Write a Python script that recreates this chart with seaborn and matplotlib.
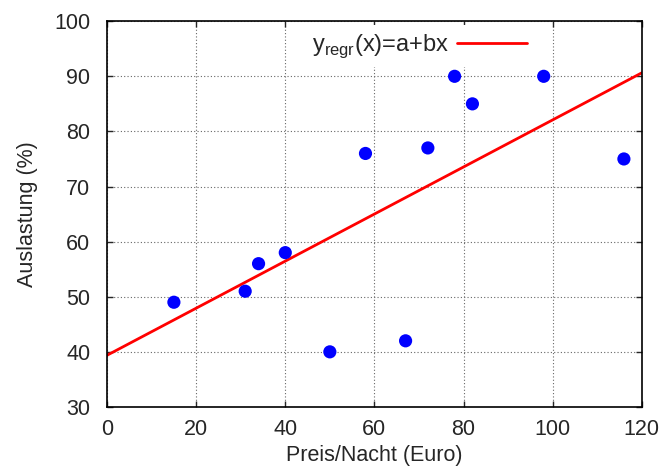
import numpy as np
import pandas as pd
import matplotlib
matplotlib.use('Agg')
import matplotlib.pyplot as plt
import seaborn as sns

preis = [15, 31, 34, 40, 50, 58, 67, 72, 78, 82, 98, 116]
auslastung = [49, 51, 56, 58, 40, 76, 42, 77, 90, 85, 90, 75]

df = pd.DataFrame({'preis': preis, 'auslastung': auslastung})

sns.set_style('ticks')
plt.rcParams['font.family'] = ['Liberation Sans', 'DejaVu Sans']
plt.rcParams['mathtext.fontset'] = 'custom'
plt.rcParams['mathtext.rm'] = 'Liberation Sans'

fig = plt.figure(figsize=(6.65, 4.71), dpi=100)
ax = fig.add_axes([0.161, 0.136, 0.804, 0.819])
ax.set_xlim(0, 120)
ax.set_ylim(30, 100)

# regression line over the full axis range
sns.regplot(data=df, x='preis', y='auslastung', ax=ax, ci=None, truncate=False,
            scatter=False, line_kws={'color': 'red', 'lw': 2, 'zorder': 2},
            label=r'y$_\mathregular{regr}$(x)=a+bx')
sns.scatterplot(data=df, x='preis', y='auslastung', ax=ax, color='blue', s=90,
                edgecolor='none', zorder=3)

ax.set_xlim(0, 120)
ax.set_ylim(30, 100)
ax.set_xticks(range(0, 121, 20))
ax.set_yticks(range(30, 101, 10))
ax.grid(True, color='#666666', linestyle=(0, (1, 2)), linewidth=0.8)
ax.tick_params(direction='in', top=True, right=True, length=4, labelsize=15.5, width=1)
ax.tick_params(axis='y', pad=12)
ax.tick_params(axis='x', pad=9)
for s in ax.spines.values():
    s.set_linewidth(1.2)
    s.set_color('black')

ax.set_xlabel('Preis/Nacht (Euro)', fontsize=15.5, labelpad=3)
ax.set_ylabel('Auslastung (%)', fontsize=15.5, labelpad=12)

ax.legend(loc='upper center', bbox_to_anchor=(0.585, 1.02), frameon=True, facecolor='white',
          edgecolor='none', framealpha=1, fontsize=17, markerfirst=False, handlelength=3.0,
          borderpad=0.3, handletextpad=0.3)

fig.savefig('out.png', dpi=100)
